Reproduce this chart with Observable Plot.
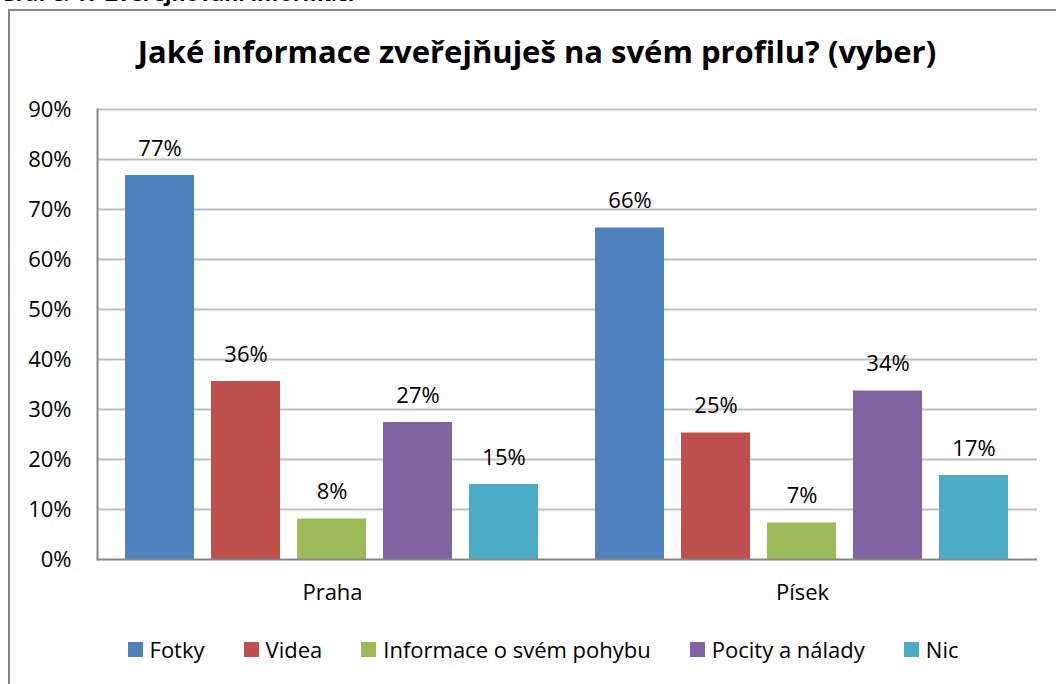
<!DOCTYPE html>
<html><head><meta charset="utf-8">
<script src="https://cdn.jsdelivr.net/npm/d3@7"></script>
<script src="https://cdn.jsdelivr.net/npm/@observablehq/plot@0.6"></script>
<style>
body{margin:0;background:#fff;}
#wrap{position:relative;width:1056px;height:684px;overflow:hidden;font-family:"Open Sans",sans-serif;color:#000;}
#caption{position:absolute;left:0;top:-17px;font-size:21.5px;font-weight:bold;line-height:20px;white-space:nowrap;}
#frame{position:absolute;left:8px;top:9px;width:1200px;height:900px;border:2px solid #868686;}
#title{position:absolute;left:0;width:1074px;top:31px;text-align:center;font-size:31px;font-weight:bold;line-height:40px;}
#chart{position:absolute;left:0;top:0;}
#legend{position:absolute;left:0;width:1086px;top:635px;display:flex;justify-content:center;font-size:22px;line-height:28px;gap:39px;}
.item{display:flex;align-items:center;white-space:nowrap;}
.sw{width:15px;height:15px;margin-right:7px;}
</style></head>
<body>
<div id="wrap">
  <div id="caption">Graf č. 17 Zveřejňování informací</div>
  <div id="frame"></div>
  <div id="title">Jaké informace zveřejňuješ na svém profilu? (vyber)</div>
  <div id="chart"></div>
  <div id="legend"></div>
</div>
<script>
const cities = ["Praha", "Písek"];
const series = ["Fotky", "Videa", "Informace o svém pohybu", "Pocity a nálady", "Nic"];
const prahaValues = [0.768, 0.356, 0.081, 0.274, 0.150];
const pisekValues = [0.663, 0.253, 0.073, 0.337, 0.168];
const colors = ["#4F81BD", "#C0504D", "#9BBB59", "#8064A2", "#4BACC6"];
const yTicks = [0, 0.1, 0.2, 0.3, 0.4, 0.5, 0.6, 0.7, 0.8, 0.9];

const data = [];
series.forEach((s, i) => data.push({city: cities[0], series: s, value: prahaValues[i]}));
series.forEach((s, i) => data.push({city: cities[1], series: s, value: pisekValues[i]}));
const fmt = d3.format(".0%");

const chart = Plot.plot({
  width: 1056, height: 684,
  marginLeft: 97, marginRight: 19, marginTop: 109, marginBottom: 125,
  style: {fontFamily: '"Open Sans", sans-serif', fontSize: "22px", color: "#000", background: "transparent", overflow: "visible"},
  fx: {domain: cities, padding: 0, label: null, tickSize: 0, tickPadding: 25, axis: "bottom"},
  x: {domain: series, paddingInner: 0.1954, paddingOuter: 0.2989, axis: null},
  y: {domain: [0, 0.9], ticks: yTicks, tickFormat: fmt, tickSize: 0, tickPadding: 26, label: null},
  color: {domain: series, range: colors},
  marks: [
    Plot.ruleY(yTicks.slice(1), {stroke: "#bfbfbf", strokeWidth: 2}),
    Plot.barY(data, {fx: "city", x: "series", y: "value", fill: "series"}),
    Plot.text(data, {fx: "city", x: "series", y: "value", text: d => fmt(d.value), dy: -27, fontSize: 22, fill: "#000"}),
    Plot.ruleY([0], {stroke: "#868686", strokeWidth: 2}),
    Plot.frame({anchor: "left", stroke: "#868686", strokeWidth: 2, facet: "super"})
  ]
});
document.getElementById("chart").appendChild(chart);

const legend = document.getElementById("legend");
series.forEach((s, i) => {
  const it = document.createElement("div");
  it.className = "item";
  const sw = document.createElement("div");
  sw.className = "sw";
  sw.style.background = colors[i];
  const t = document.createElement("span");
  t.textContent = s;
  it.appendChild(sw); it.appendChild(t);
  legend.appendChild(it);
});
</script>
</body></html>
